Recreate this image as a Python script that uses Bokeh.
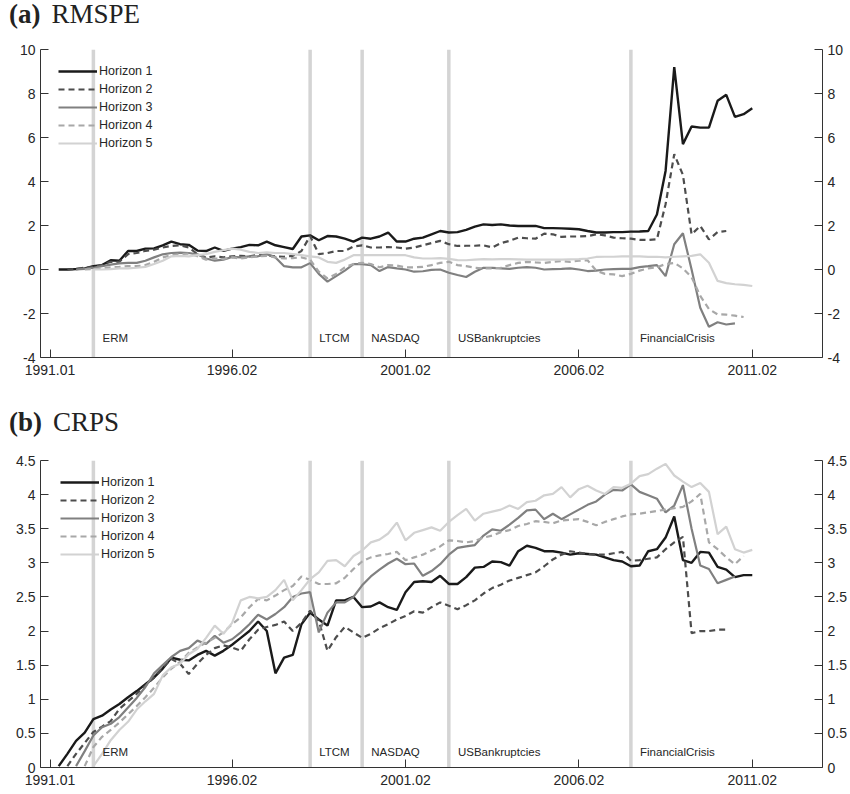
from bokeh.plotting import figure
from bokeh.models import (ColumnDataSource, Legend, LegendItem, LinearAxis, FixedTicker,
                          Span, Range1d, Div, NumeralTickFormatter)
from bokeh.layouts import column
from bokeh.core.properties import value
from bokeh.embed import file_html
from bokeh.resources import INLINE

# ---------------- data ----------------
quarter_tick_idx = [0, 21, 41, 61, 81]
quarter_tick_labels = ["1991.01", "1996.02", "2001.02", "2006.02", "2011.02"]
event_names = ["ERM", "LTCM", "NASDAQ", "USBankruptcies", "FinancialCrisis"]
event_idx = [5, 30, 36, 46, 67]
horizon_names = ["Horizon 1", "Horizon 2", "Horizon 3", "Horizon 4", "Horizon 5"]
horizon_start = [1, 2, 3, 4, 5]

rmspe_h1 = [0.0, 0.0, 0.02, 0.05, 0.15, 0.2, 0.42, 0.4, 0.84, 0.84,
            0.95, 0.96, 1.1, 1.27, 1.15, 1.12, 0.86, 0.84, 1.0, 0.85,
            0.95, 1.02, 1.12, 1.1, 1.27, 1.1, 1.02, 0.93, 1.5, 1.55,
            1.33, 1.52, 1.5, 1.4, 1.27, 1.45, 1.4, 1.5, 1.68, 1.27,
            1.27, 1.4, 1.45, 1.6, 1.75, 1.68, 1.7, 1.8, 1.95, 2.05,
            2.02, 2.05, 2.0, 1.98, 1.98, 1.98, 1.88, 1.88, 1.87, 1.85,
            1.83, 1.75, 1.68, 1.68, 1.7, 1.7, 1.72, 1.73, 1.75, 2.5,
            4.48, 9.2, 5.7, 6.5, 6.45, 6.45, 7.67, 7.94, 6.94, 7.06,
            7.33]
rmspe_h2 = [0.0, 0.02, 0.08, 0.12, 0.2, 0.35, 0.35, 0.7, 0.75, 0.85,
            0.9, 1.0, 1.07, 1.1, 1.0, 0.7, 0.54, 0.6, 0.55, 0.6,
            0.62, 0.6, 0.66, 0.65, 0.6, 0.58, 0.62, 0.84, 1.52, 0.7,
            0.75, 0.84, 0.84, 1.05, 1.1, 1.0, 1.0, 1.02, 1.0, 0.95,
            1.0, 1.1, 1.2, 1.3, 1.15, 1.07, 1.08, 1.08, 1.1, 1.0,
            1.2, 1.3, 1.45, 1.42, 1.4, 1.63, 1.6, 1.48, 1.5, 1.5,
            1.52, 1.6, 1.55, 1.45, 1.42, 1.4, 1.35, 1.34, 1.37, 2.97,
            5.24, 4.3, 1.6, 1.98, 1.37, 1.7, 1.75]
rmspe_h3 = [0.0, 0.03, 0.08, 0.15, 0.22, 0.28, 0.3, 0.3, 0.4, 0.55,
            0.69, 0.75, 0.77, 0.75, 0.69, 0.5, 0.4, 0.45, 0.57, 0.55,
            0.6, 0.6, 0.7, 0.55, 0.15, 0.1, 0.1, 0.29, -0.2, -0.55,
            -0.3, -0.05, 0.24, 0.24, 0.2, -0.07, 0.11, 0.05, 0.0, -0.1,
            -0.08, -0.02, 0.0, -0.15, -0.25, -0.34, -0.1, 0.08, 0.07, 0.05,
            0.03, 0.08, 0.11, 0.08, 0.0, 0.02, 0.03, 0.05, 0.0, -0.07,
            -0.05, 0.0, 0.02, 0.03, 0.03, 0.11, 0.15, 0.2, -0.3, 1.15,
            1.65, 0.0, -1.74, -2.6, -2.4, -2.5, -2.45]
rmspe_h4 = [0.0, 0.02, 0.05, 0.1, 0.12, 0.15, 0.15, 0.2, 0.35, 0.55,
            0.65, 0.7, 0.72, 0.6, 0.45, 0.5, 0.48, 0.55, 0.5, 0.55,
            0.6, 0.62, 0.55, 0.5, 0.52, 0.55, 0.45, -0.1, -0.4, -0.2,
            0.1, 0.25, 0.3, 0.25, 0.1, 0.2, 0.18, 0.1, 0.1, 0.12,
            0.2, 0.3, 0.35, 0.2, 0.15, 0.08, 0.05, 0.05, 0.08, 0.2,
            0.3, 0.35, 0.32, 0.3, 0.35, 0.38, 0.35, 0.4, 0.42, -0.05,
            -0.2, -0.22, -0.3, -0.2, -0.05, 0.05, 0.1, 0.25, 0.3, 0.05,
            -0.35, -1.2, -1.8, -2.04, -2.05, -2.1, -2.16]
rmspe_h5 = [0.0, 0.0, 0.02, 0.05, 0.05, 0.08, 0.12, 0.25, 0.4, 0.6,
            0.62, 0.6, 0.65, 0.7, 0.8, 0.88, 0.95, 0.9, 0.8, 0.75,
            0.78, 0.75, 0.75, 0.7, 0.65, 0.6, 0.55, 0.35, 0.3, 0.45,
            0.65, 0.65, 0.65, 0.65, 0.65, 0.65, 0.65, 0.55, 0.5, 0.5,
            0.52, 0.48, 0.43, 0.42, 0.45, 0.47, 0.46, 0.47, 0.47, 0.46,
            0.45, 0.45, 0.45, 0.45, 0.45, 0.46, 0.47, 0.5, 0.57, 0.58,
            0.58, 0.6, 0.6, 0.6, 0.57, 0.58, 0.55, 0.58, 0.6, 0.62,
            0.69, 0.31, -0.52, -0.62, -0.67, -0.7, -0.75]

crps_h1 = [0.02, 0.2, 0.39, 0.51, 0.71, 0.76, 0.85, 0.93, 1.03, 1.12,
           1.22, 1.32, 1.45, 1.61, 1.58, 1.57, 1.65, 1.71, 1.64, 1.71,
           1.8, 1.9, 2.0, 2.14, 2.0, 1.38, 1.61, 1.65, 2.1, 2.27,
           2.17, 2.08, 2.45, 2.45, 2.5, 2.35, 2.36, 2.42, 2.35, 2.31,
           2.57, 2.72, 2.73, 2.72, 2.81, 2.69, 2.69, 2.79, 2.93, 2.94,
           3.02, 3.01, 2.96, 3.17, 3.25, 3.22, 3.17, 3.17, 3.15, 3.12,
           3.14, 3.13, 3.12, 3.08, 3.04, 3.02, 2.95, 2.96, 3.17, 3.2,
           3.37, 3.68, 3.04, 3.0, 3.16, 3.15, 2.94, 2.9, 2.79, 2.82,
           2.82]
crps_h2 = [0.02, 0.2, 0.36, 0.52, 0.6, 0.68, 0.86, 0.97, 1.08, 1.2,
           1.32, 1.47, 1.59, 1.52, 1.37, 1.52, 1.65, 1.75, 1.79, 1.76,
           1.71, 1.88, 2.02, 2.06, 2.09, 2.14, 2.0, 2.12, 2.3, 2.15,
           1.71, 1.91, 2.06, 1.98, 1.9, 1.96, 2.04, 2.1, 2.17, 2.22,
           2.29, 2.27, 2.35, 2.42, 2.37, 2.32, 2.38, 2.45, 2.55, 2.63,
           2.68, 2.74, 2.78, 2.82, 2.86, 2.95, 3.05, 3.12, 3.17, 3.15,
           3.13, 3.12, 3.12, 3.14, 3.16, 3.03, 3.04, 3.06, 3.08, 3.2,
           3.3, 3.38, 1.97, 2.0, 2.0, 2.02, 2.02]
crps_h3 = [0.02, 0.24, 0.47, 0.59, 0.64, 0.74, 0.88, 1.02, 1.18, 1.38,
           1.5, 1.62, 1.71, 1.75, 1.86, 1.81, 1.93, 1.83, 1.88, 1.98,
           2.1, 2.24, 2.17, 2.25, 2.35, 2.5, 2.55, 2.57, 1.98, 2.27,
           2.42, 2.42, 2.5, 2.67, 2.8, 2.9, 2.99, 3.06, 2.98, 2.99,
           2.81, 2.88, 2.98, 3.12, 3.22, 3.24, 3.26, 3.4, 3.49, 3.47,
           3.56, 3.66, 3.77, 3.78, 3.64, 3.72, 3.64, 3.71, 3.78, 3.85,
           3.9, 4.0, 4.07, 4.06, 4.15, 4.04, 3.99, 3.94, 3.74, 3.84,
           4.14, 3.5, 2.96, 2.91, 2.7, 2.75, 2.8]
crps_h4 = [0.02, 0.3, 0.45, 0.55, 0.66, 0.78, 0.9, 1.03, 1.17, 1.32,
           1.45, 1.55, 1.68, 1.76, 1.83, 1.9, 1.98, 2.1, 2.2, 2.35,
           2.47, 2.45, 2.52, 2.6, 2.66, 2.8, 2.75, 2.69, 2.69, 2.7,
           2.78, 2.91, 3.02, 3.08, 3.11, 3.13, 3.16, 3.04, 3.08, 3.12,
           3.18, 3.24, 3.33, 3.32, 3.3, 3.32, 3.37, 3.4, 3.45, 3.48,
           3.54, 3.57, 3.61, 3.6, 3.58, 3.62, 3.63, 3.64, 3.6, 3.55,
           3.6, 3.64, 3.68, 3.71, 3.72, 3.74, 3.76, 3.78, 3.8, 3.82,
           3.9, 4.01, 3.3, 3.2, 3.08, 2.98, 3.1]
crps_h5 = [0.02, 0.2, 0.4, 0.55, 0.67, 0.85, 0.97, 1.08, 1.35, 1.47,
           1.52, 1.66, 1.74, 1.9, 2.08, 1.96, 2.12, 2.45, 2.5, 2.48,
           2.5, 2.6, 2.75, 2.45, 2.6, 2.76, 2.86, 3.03, 3.04, 2.95,
           3.1, 3.18, 3.3, 3.34, 3.43, 3.59, 3.33, 3.44, 3.48, 3.52,
           3.47, 3.6, 3.7, 3.79, 3.62, 3.72, 3.75, 3.78, 3.84, 3.79,
           3.89, 3.91, 3.99, 4.01, 4.11, 3.96, 4.08, 4.13, 4.06, 4.01,
           4.11, 4.1, 4.16, 4.27, 4.3, 4.38, 4.45, 4.28, 4.19, 4.11,
           4.17, 4.04, 3.42, 3.53, 3.2, 3.15, 3.19]

rmspe_series = [rmspe_h1, rmspe_h2, rmspe_h3, rmspe_h4, rmspe_h5]
crps_series = [crps_h1, crps_h2, crps_h3, crps_h4, crps_h5]

# ---------------- styles ----------------
line_colors = ["#1a1a1a", "#4d4d4d", "#808080", "#a8a8a8", "#d2d2d2"]
line_dashes = ["solid", "6 4", "solid", "6 4", "solid"]
line_widths = [2.4, 2.2, 2.2, 2.2, 2.2]
EVENT_COLOR = "#d4d4d4"
TXT = "#262626"
SANS = "Liberation Sans"


def style_axis(ax, ticks, labels=None):
    ax.ticker = FixedTicker(ticks=ticks)
    if labels is not None:
        ax.major_label_overrides = {t: l for t, l in zip(ticks, labels)}
    else:
        ax.formatter = NumeralTickFormatter(format="0.[0]")
    ax.major_tick_in = 8
    ax.major_tick_out = 0
    ax.minor_tick_in = 0
    ax.minor_tick_out = 0
    ax.axis_line_color = "#333333"
    ax.axis_line_width = 1
    ax.major_tick_line_color = "#333333"
    ax.major_label_text_font = SANS
    ax.major_label_text_font_size = "14px"
    ax.major_label_text_color = TXT
    ax.major_label_standoff = 5


def make_panel(series, y0, y1, yticks, height, top, bottom, label_y, legend_xy):
    p = figure(width=850, height=height, output_backend="svg", toolbar_location=None,
               x_range=Range1d(-1.1, 89.1), y_range=Range1d(y0, y1),
               min_border_left=40, min_border_right=28,
               min_border_top=top, min_border_bottom=bottom)
    p.xgrid.visible = False
    p.ygrid.visible = False
    p.outline_line_color = None
    p.background_fill_color = "white"
    p.border_fill_color = "white"

    style_axis(p.xaxis[0], quarter_tick_idx, quarter_tick_labels)
    p.xaxis[0].major_label_standoff = 7
    style_axis(p.yaxis[0], yticks)
    right = LinearAxis()
    style_axis(right, yticks)
    p.add_layout(right, "right")

    for e in event_idx:
        p.add_layout(Span(location=e, dimension="height", line_color=EVENT_COLOR,
                          line_width=3.5, level="underlay"))

    renderers = []
    for k, vals in enumerate(series):
        xs = list(range(horizon_start[k], horizon_start[k] + len(vals)))
        src = ColumnDataSource(dict(x=xs, y=vals))
        r = p.line("x", "y", source=src, line_color=line_colors[k],
                   line_dash=line_dashes[k], line_width=line_widths[k])
        renderers.append(r)

    src_ev = ColumnDataSource(dict(x=[e + 1.05 for e in event_idx],
                                   y=[label_y] * len(event_idx), t=event_names))
    p.text("x", "y", text="t", source=src_ev, text_align="left", text_baseline="middle",
           text_font=value(SANS), text_font_size="11.5px", text_color=TXT)

    items = [LegendItem(label=horizon_names[k], renderers=[renderers[k]]) for k in range(5)]
    leg = Legend(items=items, location=legend_xy, orientation="vertical",
                 glyph_width=39, glyph_height=18, label_height=18, spacing=0,
                 padding=0, margin=0, label_standoff=2,
                 label_text_font=SANS, label_text_font_size="12.5px",
                 label_text_color=TXT, border_line_alpha=0,
                 background_fill_alpha=0)
    p.add_layout(leg, "center")
    return p


def title_div(bold, rest, height, pad_top):
    html = ('<div style="font-family:\'Liberation Serif\';font-size:27px;line-height:27px;'
            'padding-top:%dpx;padding-left:9px;color:#222;white-space:nowrap;">'
            '<b>%s</b><span style="margin-left:11px;">%s</span></div>' % (pad_top, bold, rest))
    return Div(text=html, width=850, height=height, margin=(0, 0, 0, 0))


pa = make_panel(rmspe_series, -4, 10, [-4, -2, 0, 2, 4, 6, 8, 10],
                height=345, top=9, bottom=28, label_y=-3.1, legend_xy=(18, 205))
pb = make_panel(crps_series, 0, 4.5, [0, 0.5, 1, 1.5, 2, 2.5, 3, 3.5, 4, 4.5],
                height=357, top=23, bottom=27, label_y=0.22, legend_xy=(20, 204))
pa.margin = (0, 0, 0, 0)
pb.margin = (0, 0, 0, 0)

layout = column(title_div("(a)", "RMSPE", 40, 1), pa,
                title_div("(b)", "CRPS", 52, 24), pb, spacing=0)

open("out.html", "w").write(file_html(layout, INLINE))
